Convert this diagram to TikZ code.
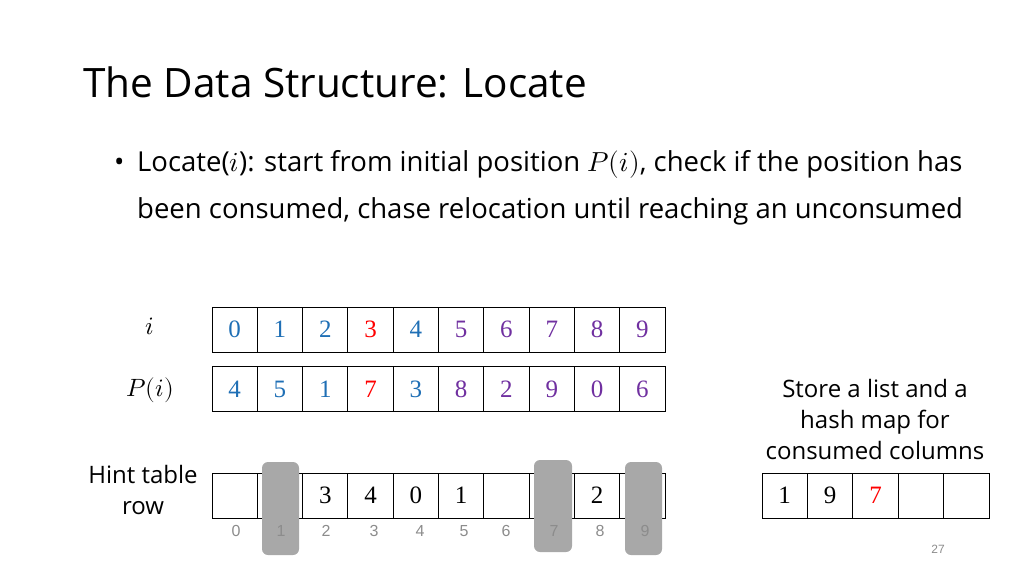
\documentclass[tikz,border=0pt]{standalone}
\usepackage{fontspec}
\setmainfont{Open Sans}
\usepackage{unicode-math}
\setmathfont{Latin Modern Math}
\newfontfamily\numfont{Liberation Serif}
\newfontfamily\idxfont{Liberation Sans}
\definecolor{cblue}{HTML}{1F6FB5}
\definecolor{cpurple}{HTML}{7030A0}
\definecolor{cred}{HTML}{FF0000}
\definecolor{hgray}{HTML}{A8A8A8}
\definecolor{igray}{HTML}{8C8C8C}
\tikzset{
  cell/.style={draw=black, line width=0.9pt, minimum width=45.3pt, minimum height=45pt, inner sep=0pt, font=\numfont\fontsize{25}{25}\selectfont},
  hintbar/.style={fill=hgray, rounded corners=6pt, draw=none},
  idx/.style={font=\idxfont\fontsize{16}{16}\selectfont, text=igray, inner sep=0pt},
  lbl/.style={font=\fontsize{24}{31}\selectfont, align=center, inner sep=0pt},
  bodytext/.style={anchor=base west, inner sep=0pt, font=\fontsize{27.5}{27.5}\selectfont},
}
\begin{document}
\begin{tikzpicture}[x=1pt,y=-1pt]
\useasboundingbox (0,0) rectangle (1024,576);
% title
\node[anchor=base west, inner sep=0pt, font=\fontsize{40.5}{40.5}\selectfont] (title) at (83,97) {The Data Structure: Locate};
% bullet
\node[bodytext] (bul) at (114,171) {•};
\node[bodytext] (l1) at (137,171) {Locate($i$): start from initial position $P(i)$, check if the position has};
\node[bodytext] (l2) at (137,218) {been consumed, chase relocation until reaching an unconsumed};
% row labels
\node[inner sep=0pt, font=\fontsize{25}{25}\selectfont] (li) at (150,326) {$i$};
\node[inner sep=0pt, font=\fontsize{25}{25}\selectfont] (lp) at (150,390) {$P(i)$};
\node[lbl] (lh) at (143,490) {Hint table\\row};
\node[lbl] (ls) at (875,419) {Store a list and a\\hash map for\\consumed columns};
% rows
\foreach \c/\n [count=\k from 0] in {cblue/0,cblue/1,cblue/2,cred/3,cblue/4,cpurple/5,cpurple/6,cpurple/7,cpurple/8,cpurple/9}{
  \node[cell, text=\c] (t\k) at ({212+45.3*\k+22.65},329.5) {\n};
}
\foreach \c/\n [count=\k from 0] in {cblue/4,cblue/5,cblue/1,cred/7,cblue/3,cpurple/8,cpurple/2,cpurple/9,cpurple/0,cpurple/6}{
  \node[cell, text=\c] (p\k) at ({212+45.3*\k+22.65},389) {\n};
}
\foreach \n [count=\k from 0] in {{},{},3,4,0,1,{},{},2,{}}{
  \node[cell] (h\k) at ({212+45.3*\k+22.65},495.5) {\n};
}
% gray bars
\draw[hintbar] (262,462) rectangle (299,555);
\draw[hintbar] (534,460) rectangle (572,552);
\draw[hintbar] (625,462) rectangle (662,555);
% index labels
\foreach \x [count=\k from 0] in {236,281,326,374,420,464,506,554,600,645}{
  \node[idx] (ix\k) at (\x,531) {\k};
}
% consumed list
\foreach \c/\n [count=\k from 0] in {black/1,black/9,cred/7,black/{},black/{}}{
  \node[cell, text=\c] (c\k) at ({762+45.4*\k+22.7},495.5) {\n};
}
\node[inner sep=0pt, font=\idxfont\fontsize{12}{12}\selectfont, text=igray] (pg) at (938,549) {27};
\end{tikzpicture}
\end{document}
